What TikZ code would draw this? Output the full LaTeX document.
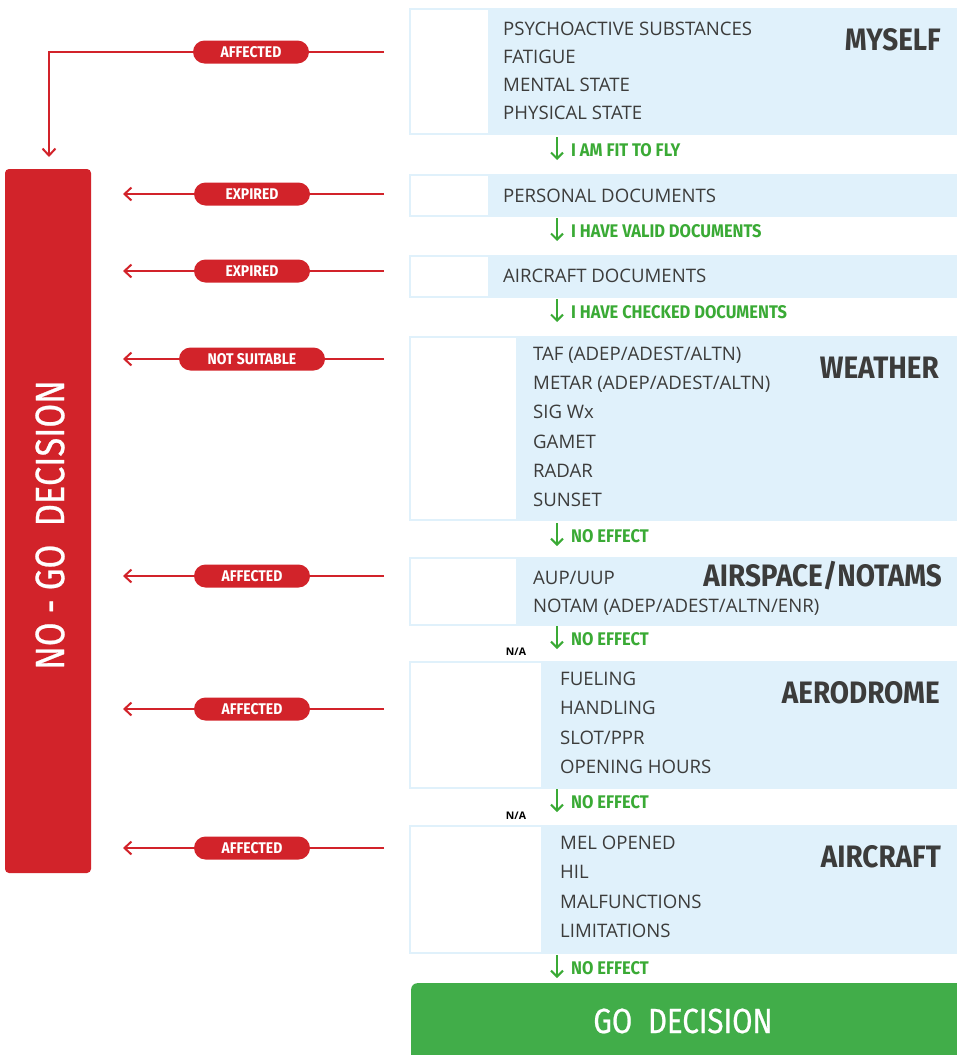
\documentclass[tikz,border=0pt]{standalone}
\usepackage{fontspec}
\setmainfont{Open Sans}
\newfontfamily\narrowfont[FakeStretch=0.9]{Fira Sans}
\newfontfamily\barfont[FakeStretch=0.84, FakeBold=0.6]{Fira Sans}
\usetikzlibrary{arrows.meta, positioning}
\definecolor{nogored}{HTML}{D2232A}
\definecolor{panelblue}{HTML}{E0F1FB}
\definecolor{gogreen}{HTML}{41AD49}
\definecolor{okgreen}{HTML}{3AAA35}
\definecolor{itemgray}{HTML}{3C3C3B}
\begin{document}
\begin{tikzpicture}[x=1pt, y=-1pt,
  panel/.style={fill=panelblue, anchor=north west, minimum width=556pt, inner sep=0pt},
  blank/.style={fill=white, anchor=north west, inner sep=0pt},
  item/.style={anchor=base west, inner sep=0pt, text=itemgray, font=\fontsize{18.6}{18.6}\selectfont},
  heading/.style={anchor=base east, inner sep=0pt, text=itemgray, font=\narrowfont\bfseries\fontsize{31}{31}\selectfont},
  pill/.style={fill=nogored, text=white, rounded corners=11.5pt, minimum height=23pt, minimum width=116pt, inner sep=0pt, font=\narrowfont\bfseries\fontsize{15.5}{15.5}\selectfont},
  okay/.style={anchor=west, inner sep=0pt, text=okgreen, font=\narrowfont\bfseries\fontsize{18.3}{18.3}\selectfont},
  redarrow/.style={draw=nogored, line width=2pt, -{Straight Barb[length=7pt, width=13pt]}},
  okarrow/.style={draw=okgreen, line width=2pt, -{Straight Barb[length=6pt, width=12pt]}},
  na/.style={inner sep=0pt, font=\bfseries\fontsize{10.5}{10.5}\selectfont}]
\useasboundingbox (0,0) rectangle (957,1055);
% Draw the no-go bar
\node[fill=nogored, rounded corners=4pt, minimum width=86pt, minimum height=704pt, inner sep=0pt] (nogo) at (48,521) {};
\node[rotate=90, text=white, inner sep=0pt, font=\barfont\fontsize{41}{41}\selectfont] (nogo-text) at (50,525) {NO - GO\hspace{0.45em}DECISION};
% Draw myself panel
\node[panel, minimum height=127pt] (myself) at (409,8) {};
\node[blank, minimum width=77pt, minimum height=123pt] (myself-box) at (411,10) {};
\foreach \t [count=\i] in {PSYCHOACTIVE SUBSTANCES, FATIGUE, MENTAL STATE, PHYSICAL STATE}
  \node[item] (myself-\i) at (503,{7.5+28*\i}) {\t};
\node[heading] (myself-title) at (941,50.7) {MYSELF};
% Draw personal documents panel
\node[panel, minimum height=43pt] (personal) at (409,174) {};
\node[blank, minimum width=77pt, minimum height=39pt] (personal-box) at (411,176) {};
\node[item] (personal-1) at (503,202.5) {PERSONAL DOCUMENTS};
% Draw aircraft documents panel
\node[panel, minimum height=43pt] (acdocs) at (409,255) {};
\node[blank, minimum width=77pt, minimum height=39pt] (acdocs-box) at (411,257) {};
\node[item] (acdocs-1) at (503,282.5) {AIRCRAFT DOCUMENTS};
% Draw weather panel
\node[panel, minimum height=185pt] (weather) at (409,336) {};
\node[blank, minimum width=105pt, minimum height=181pt] (weather-box) at (411,338) {};
\foreach \t [count=\i] in {TAF (ADEP/ADEST/ALTN), METAR (ADEP/ADEST/ALTN), SIG Wx, GAMET, RADAR, SUNSET}
  \node[item] (weather-\i) at (533,{331.3+29.2*\i}) {\t};
\node[heading] (weather-title) at (939,378.7) {WEATHER};
% Draw airspace panel
\node[panel, minimum height=69pt] (airspace) at (409,557) {};
\node[blank, minimum width=105pt, minimum height=65pt] (airspace-box) at (411,559) {};
\node[item] (airspace-1) at (533,584.5) {AUP/UUP};
\node[item] (airspace-2) at (533,612.5) {NOTAM (ADEP/ADEST/ALTN/ENR)};
\node[heading] (airspace-title) at (942,586.7) {AIRSPACE/NOTAMS};
% Draw aerodrome panel
\node[panel, minimum height=128pt] (aerodrome) at (409,661) {};
\node[blank, minimum width=130pt, minimum height=124pt] (aerodrome-box) at (411,663) {};
\foreach \t [count=\i] in {FUELING, HANDLING, SLOT/PPR, OPENING HOURS}
  \node[item] (aerodrome-\i) at (560,{656.2+29.3*\i}) {\t};
\node[heading] (aerodrome-title) at (940,703.7) {AERODROME};
\node[na] (na1) at (516,652) {N/A};
% Draw aircraft panel
\node[panel, minimum height=129pt] (aircraft) at (409,825) {};
\node[blank, minimum width=130pt, minimum height=125pt] (aircraft-box) at (411,827) {};
\foreach \t [count=\i] in {MEL OPENED, HIL, MALFUNCTIONS, LIMITATIONS}
  \node[item] (aircraft-\i) at (560,{820.2+29.3*\i}) {\t};
\node[heading] (aircraft-title) at (941,867.7) {AIRCRAFT};
\node[na] (na2) at (516,816) {N/A};
% Draw the go bar
\node[fill=gogreen, rounded corners=6pt, anchor=north west, minimum width=560pt, minimum height=90pt] (go) at (411,983) {};
\node[text=white, inner sep=0pt, font=\barfont\fontsize{35}{35}\selectfont] (go-text) at (683,1021) {GO\hspace{0.45em}DECISION};
% Draw the green arrows and their labels
\foreach \y/\lbl [count=\i] in {150/I AM FIT TO FLY, 231/I HAVE VALID DOCUMENTS, 312/I HAVE CHECKED DOCUMENTS, 536/NO EFFECT, 639/NO EFFECT, 802/NO EFFECT, 968/NO EFFECT} {
  \node[okay] (ok\i) at (571,\y) {\lbl};
  \coordinate (ok\i-top) at (557,{\y-13});
  \coordinate (ok\i-end) at (557,{\y+10});
  \draw[okarrow] (ok\i-top) -- (ok\i-end);
}
% Draw the red arrows and their labels
\coordinate (from1) at (384,52);
\node[pill] (pill1) at (251,52) {AFFECTED};
\coordinate (to1) at (49,157);
\draw[redarrow] (from1) -- (pill1) -| (to1);
\foreach \y/\lbl/\w [count=\i from 2] in {194/EXPIRED/116, 271/EXPIRED/116, 359/NOT SUITABLE/146, 576/AFFECTED/116, 709/AFFECTED/116, 848/AFFECTED/116} {
  \coordinate (from\i) at (384,\y);
  \node[pill, minimum width=\w pt] (pill\i) at (252,\y) {\lbl};
  \coordinate (to\i) at (123,\y);
  \draw[redarrow] (from\i) -- (pill\i) -- (to\i);
}
\end{tikzpicture}
\end{document}
